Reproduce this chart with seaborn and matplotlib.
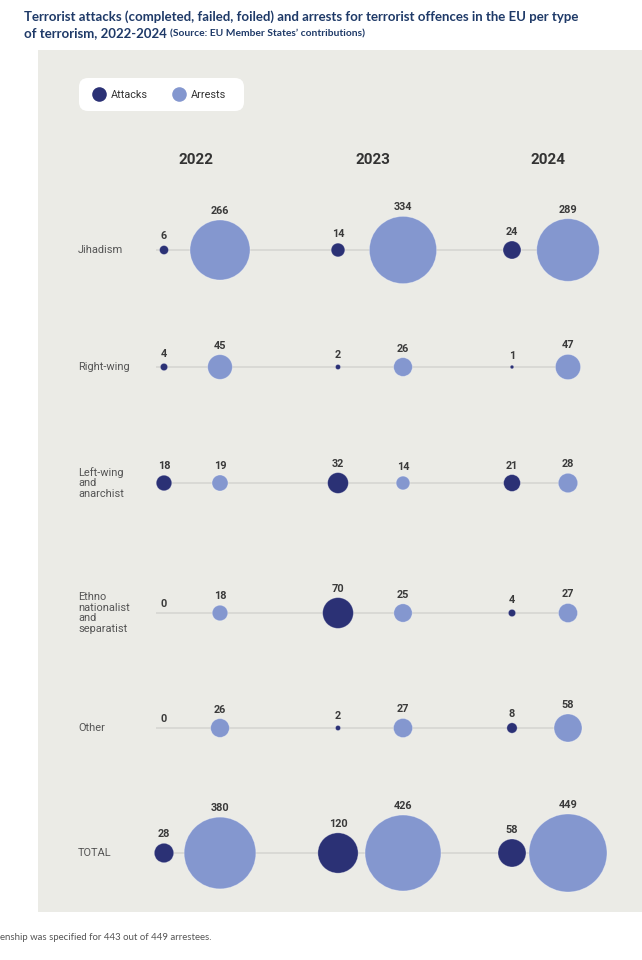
import numpy as np
import pandas as pd
import matplotlib
matplotlib.use("Agg")
import matplotlib.pyplot as plt
import seaborn as sns
from matplotlib.patches import Rectangle, FancyBboxPatch
from matplotlib.lines import Line2D

# ---------------- data ----------------
categories = ["Jihadism", "Right-wing", "Left-wing\nand\nanarchist",
              "Ethno\nnationalist\nand\nseparatist", "Other", "TOTAL"]
years = ["2022", "2023", "2024"]
attacks_2022 = [6, 4, 18, 0, 0, 28]
attacks_2023 = [14, 2, 32, 70, 2, 120]
attacks_2024 = [24, 1, 21, 4, 8, 58]
arrests_2022 = [266, 45, 19, 18, 26, 380]
arrests_2023 = [334, 26, 14, 25, 27, 426]
arrests_2024 = [289, 47, 28, 27, 58, 449]
series_types = ["Attacks", "Arrests"]

attacks = {"2022": attacks_2022, "2023": attacks_2023, "2024": attacks_2024}
arrests = {"2022": arrests_2022, "2023": arrests_2023, "2024": arrests_2024}

# ---------------- layout (pixel space) ----------------
W, H = 642, 960
ROW_Y = [250, 367, 483, 613, 728, 853]
COL_X = {("2022", "Attacks"): 164, ("2022", "Arrests"): 220,
         ("2023", "Attacks"): 338, ("2023", "Arrests"): 403,
         ("2024", "Attacks"): 512, ("2024", "Arrests"): 568}
YEAR_X = [196, 373, 548]
R_PER_SQRT = 1.84          # bubble radius in px per sqrt(value)

rows = []
for ci, cat in enumerate(categories):
    for yr in years:
        for t, src in (("Attacks", attacks), ("Arrests", arrests)):
            v = src[yr][ci]
            rows.append(dict(category=cat, year=yr, type=t, value=v,
                             x=COL_X[(yr, t)], y=ROW_Y[ci]))
df = pd.DataFrame(rows)

vmax = max(max(arrests_2022), max(arrests_2023), max(arrests_2024))
s_max = (2 * R_PER_SQRT * np.sqrt(vmax) * 0.72) ** 2

sns.set_theme(style="white")
plt.rcParams["font.family"] = ["Roboto", "DejaVu Sans"]

C_ATT = "#2b3175"
C_ARR = "#8497cf"
palette = {"Attacks": C_ATT, "Arrests": C_ARR}

fig = plt.figure(figsize=(W / 100, H / 100), dpi=100)
fig.patch.set_facecolor("white")
ax = fig.add_axes([0, 0, 1, 1])
ax.set_xlim(0, W)
ax.set_ylim(H, 0)
ax.axis("off")

# panel background
ax.add_patch(Rectangle((38, 50), W - 38 + 5, 862, facecolor="#ebebe6",
                       edgecolor="none", zorder=0))

# row guide lines
x_first = COL_X[("2022", "Attacks")] - 8
x_last = COL_X[("2024", "Arrests")]
for y in ROW_Y:
    ax.plot([x_first, x_last], [y, y], color="#d6d6d2", lw=1.2, zorder=1,
            solid_capstyle="butt")

sns.scatterplot(data=df, x="x", y="y", hue="type", size="value",
                palette=palette, sizes=(0, s_max), size_norm=(0, vmax),
                legend=False, edgecolor=(1, 1, 1, 0.35), linewidth=0.6,
                ax=ax, zorder=3)
ax.set_xlim(0, W)
ax.set_ylim(H, 0)
ax.axis("off")

# value labels
for _, r in df.iterrows():
    rad = R_PER_SQRT * np.sqrt(r.value)
    ax.text(r.x, r.y - rad - 6, f"{r.value}", ha="center", va="baseline",
            fontsize=7.8, fontweight="bold", color="#3a3a3a", zorder=4)

# row labels
for cat, y in zip(categories, ROW_Y):
    ax.text(78, y, cat, ha="left", va="center", fontsize=7.9,
            color="#555555", linespacing=1.1, zorder=4)

# year headings
for yr, x in zip(years, YEAR_X):
    ax.text(x, 160, yr, ha="center", va="center", fontsize=11,
            fontweight="bold", color="#333333", zorder=4)

# legend
ax.add_patch(FancyBboxPatch((79, 78), 165, 33,
                            boxstyle="round,pad=0,rounding_size=9",
                            facecolor="white", edgecolor="none", zorder=2))
handles = [Line2D([], [], marker="o", ls="none", markersize=10.5,
                  markerfacecolor=palette[t], markeredgecolor="none", label=t)
           for t in series_types]
leg = ax.legend(handles=handles, loc="center left", ncol=2,
                bbox_to_anchor=(88 / W, 1 - 95 / H), frameon=False,
                handletextpad=0.65, columnspacing=2.3, handlelength=1.0,
                prop={"family": "Roboto", "size": 7.8}, borderpad=0)
for txt in leg.get_texts():
    txt.set_color("#333333")

# title
tfam = ["Lato", "Open Sans", "DejaVu Sans"]
fig.text(24 / W, 1 - 17 / H,
         "Terrorist attacks (completed, failed, foiled) and arrests for terrorist offences in the EU per type",
         ha="left", va="center", fontsize=9.55, fontweight="bold",
         color="#1f3a68", family=tfam)
t2 = fig.text(24 / W, 1 - 33 / H, "of terrorism, 2022-2024 ",
              ha="left", va="center", fontsize=9.55, fontweight="bold",
              color="#1f3a68", family=tfam)
ax.annotate("(Source: EU Member States\u2019 contributions)", xy=(1, 0),
            xycoords=t2, xytext=(0, 0.6), textcoords="offset points",
            ha="left", va="bottom", fontsize=7.4, fontweight="bold",
            color="#1f3a68", family=tfam)

# footnote
fig.text(0, 1 - 937 / H, "enship was specified for 443 out of 449 arrestees.",
         ha="left", va="center", fontsize=6.9, color="#555555",
         family=["Lato", "Open Sans", "DejaVu Sans"])

fig.savefig("out.png", dpi=100, facecolor="white")
